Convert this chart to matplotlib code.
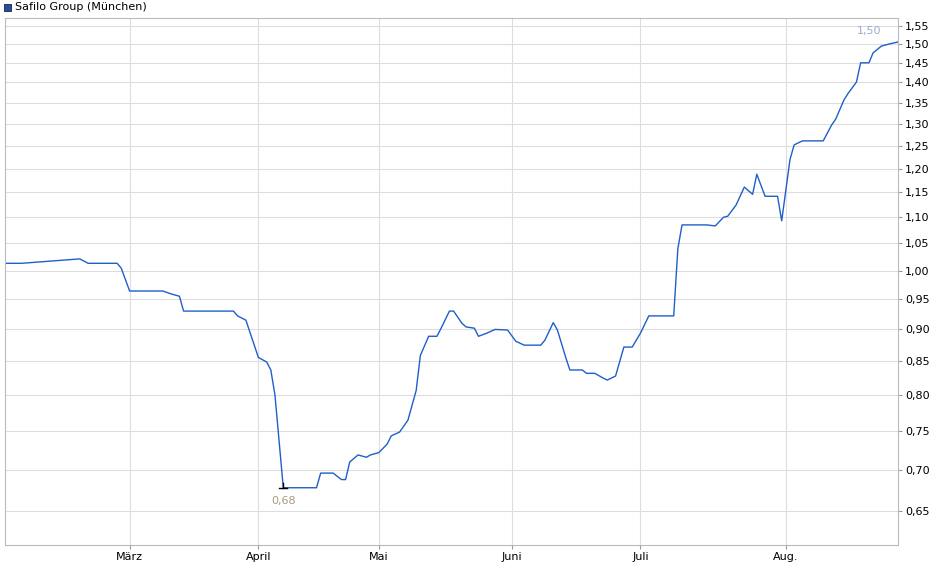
import matplotlib
matplotlib.use("Agg")
import matplotlib.pyplot as plt
import numpy as np
from matplotlib.ticker import FixedLocator, NullLocator

days = [0,4,18,20,27,28,30,38,40,42,43,55,56,58,61,63,64,65,67,75,76,79,81,82,83,85,87,88,90,92,93,95,97,99,100,102,104,105,107,108,110,111,113,114,116,118,121,123,125,129,130,132,133,135,136,139,140,142,144,145,147,149,151,153,155,161,162,163,169,171,173,174,176,178,180,181,183,186,187,189,190,192,197,199,200,202,203,205,206,208,209,211,213,215]
values = [1.013,1.013,1.021,1.013,1.013,1.004,0.964,0.964,0.959,0.955,0.930,0.930,0.922,0.915,0.856,0.849,0.837,0.800,0.678,0.678,0.696,0.696,0.688,0.688,0.710,0.719,0.716,0.719,0.722,0.733,0.744,0.749,0.765,0.807,0.859,0.889,0.889,0.902,0.930,0.930,0.910,0.904,0.902,0.889,0.894,0.900,0.899,0.881,0.875,0.875,0.883,0.911,0.899,0.856,0.837,0.837,0.832,0.832,0.825,0.822,0.828,0.872,0.872,0.894,0.922,0.922,1.040,1.085,1.085,1.083,1.100,1.102,1.124,1.161,1.146,1.188,1.142,1.142,1.093,1.220,1.252,1.261,1.261,1.297,1.311,1.357,1.373,1.401,1.450,1.450,1.476,1.494,1.500,1.505]
yticks = [0.65,0.70,0.75,0.80,0.85,0.90,0.95,1.00,1.05,1.10,1.15,1.20,1.25,1.30,1.35,1.40,1.45,1.50,1.55]
month_days = [30,61,90,122,153,188]
month_labels = ["März","April","Mai","Juni","Juli","Aug."]
title = "Safilo Group (München)"

fig = plt.figure(figsize=(9.4,5.79), dpi=100)
ax = fig.add_axes([5/940, 34/579, 893/940, 527/579])
ax.set_yscale("log")
ax.plot(days, values, color="#1f5fc8", lw=1)
ax.set_xlim(0, 215)
ax.set_ylim(0.612, 1.571)
ax.yaxis.set_major_locator(FixedLocator(yticks))
ax.yaxis.set_minor_locator(NullLocator())
ax.set_yticklabels([f"{v:.2f}".replace(".", ",") for v in yticks], fontsize=8)
ax.yaxis.tick_right()
ax.set_xticks(month_days)
ax.set_xticklabels(month_labels, fontsize=8)
ax.grid(True, color="#dddddd", lw=0.8)
ax.tick_params(length=3, color="#999999", pad=2)
for s in ax.spines.values():
    s.set_color("#bbbbbb")
imin = int(np.argmin(values))
ax.plot([days[imin]-1, days[imin]+1], [values[imin]]*2, color="black", lw=1)
ax.plot([days[imin]]*2, [values[imin], values[imin]*1.008], color="black", lw=1)
ax.text(days[imin], values[imin]*0.985, "0,68", color="#a89a80", fontsize=8, ha="center", va="top")
ax.text(days[-5], values[-1]*1.01, "1,50", color="#99aacc", fontsize=8, ha="center", va="bottom")
fig.patches.append(plt.Rectangle((4/940, 1-11/579), 7/940, 7/579, transform=fig.transFigure,
                                 facecolor="#1f4fb0", edgecolor="#222222", lw=0.6))
fig.text(15/940, 1-7/579, title, fontsize=8, va="center", ha="left")
fig.savefig("out.png", dpi=100)
